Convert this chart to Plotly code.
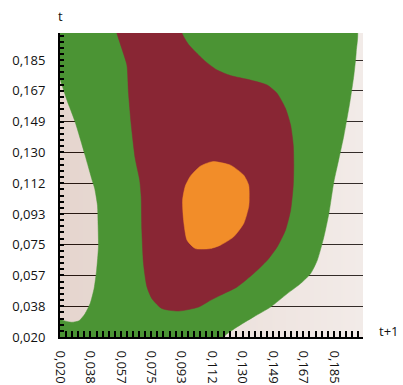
import plotly.graph_objects as go

# Axis ticks (shared by both axes)
tick_vals = [0.020, 0.038366, 0.056732, 0.075098, 0.093464,
             0.111830, 0.130196, 0.148562, 0.166928, 0.185294]
tick_text = ["0,020", "0,038", "0,057", "0,075", "0,093",
             "0,112", "0,130", "0,149", "0,167", "0,185"]
minor_step = 0.0036732
x_range = [0.02, 0.2029]
y_range = [0.02, 0.2015]

# Density level 1 (outer band) boundary: t+1 / t pairs
green_x = [0.0140, 0.1985, 0.1988, 0.1974, 0.1950, 0.1914, 0.1884, 0.1853,
           0.1823, 0.1793, 0.1753, 0.1713, 0.1652, 0.1572, 0.1471, 0.1369,
           0.1269, 0.1198, 0.1162, 0.0140, 0.0140, 0.0188, 0.0224, 0.0271,
           0.0315, 0.0351, 0.0382, 0.0406, 0.0421, 0.0432, 0.0430, 0.0426,
           0.0409, 0.0394, 0.0351, 0.0291, 0.0242, 0.0210, 0.0188, 0.0140]
green_y = [0.2062, 0.2062, 0.1903, 0.1764, 0.1604, 0.1405, 0.1266, 0.1126,
           0.0937, 0.0798, 0.0658, 0.0579, 0.0519, 0.0459, 0.0379, 0.0320,
           0.0260, 0.0210, 0.0150, 0.0150, 0.0312, 0.0309, 0.0297, 0.0288,
           0.0297, 0.0339, 0.0400, 0.0491, 0.0599, 0.0738, 0.0867, 0.0987,
           0.1088, 0.1136, 0.1286, 0.1485, 0.1614, 0.1710, 0.1770, 0.1770]

# Density level 2 boundary
red_x = [0.0533, 0.0932, 0.0936, 0.0974, 0.1027, 0.1083, 0.1148, 0.1229,
         0.1350, 0.1451, 0.1511, 0.1561, 0.1592, 0.1608, 0.1611, 0.1608,
         0.1592, 0.1561, 0.1511, 0.1451, 0.1369, 0.1269, 0.1168, 0.1108,
         0.1037, 0.0916, 0.0815, 0.0755, 0.0725, 0.0704, 0.0694, 0.0690,
         0.0681, 0.0654, 0.0630, 0.0613, 0.0604, 0.0573, 0.0543]
red_y = [0.2062, 0.2062, 0.2015, 0.1949, 0.1893, 0.1841, 0.1794, 0.1761,
         0.1734, 0.1704, 0.1654, 0.1565, 0.1465, 0.1345, 0.1226, 0.1106,
         0.0957, 0.0838, 0.0738, 0.0658, 0.0579, 0.0499, 0.0449, 0.0419,
         0.0379, 0.0355, 0.0370, 0.0429, 0.0499, 0.0639, 0.0838, 0.1037,
         0.1136, 0.1266, 0.1465, 0.1664, 0.1823, 0.1923, 0.2015]

# Density level 3 (core) boundary
orange_x = [0.1120, 0.1229, 0.1309, 0.1339, 0.1342, 0.1339, 0.1309, 0.1248,
            0.1168, 0.1108, 0.1017, 0.0967, 0.0946, 0.0940, 0.0956, 0.0987,
            0.1047]
orange_y = [0.1247, 0.1226, 0.1166, 0.1106, 0.1017, 0.0977, 0.0878, 0.0798,
            0.0748, 0.0728, 0.0728, 0.0778, 0.0897, 0.1017, 0.1100, 0.1160,
            0.1220]

GREEN = "#4b9434"
RED = "#892634"
ORANGE = "#f28d29"

fig = go.Figure()

# Soft pink backdrop, fading to the right; translucent so grid lines show
fig.add_trace(go.Heatmap(
    x=x_range, y=y_range, z=[[0, 1], [0, 1]],
    zsmooth="best", showscale=False, opacity=0.25, hoverinfo="skip",
    colorscale=[[0, "rgb(155,91,63)"], [1, "rgb(207,179,167)"]],
))

for xs, ys, col in [(green_x, green_y, GREEN), (red_x, red_y, RED),
                    (orange_x, orange_y, ORANGE)]:
    fig.add_trace(go.Scatter(
        x=xs + xs[:1], y=ys + ys[:1], mode="lines", fill="toself",
        fillcolor=col, line=dict(color=col, width=0.5, shape="spline",
                                 smoothing=0.6),
        hoverinfo="skip", showlegend=False,
    ))

tick_font = dict(family="Open Sans", size=13, color="#111111")
axis_common = dict(
    tickmode="array", tickvals=tick_vals, ticktext=tick_text,
    ticks="inside", tickcolor="black", tickwidth=1.5,
    showline=True, linecolor="black", linewidth=2, mirror=False,
    zeroline=False, tickfont=tick_font, automargin=False,
)

fig.update_xaxes(
    range=x_range, showgrid=False, tickangle=90, ticklen=6,
    ticklabelstandoff=9,
    minor=dict(tickmode="linear", tick0=0.02, dtick=minor_step,
               ticks="inside", ticklen=6, tickwidth=1.5, tickcolor="black",
               showgrid=False),
    **axis_common,
)
fig.update_yaxes(
    range=y_range, showgrid=True, gridcolor="black", gridwidth=1, ticklen=4,
    ticklabelstandoff=10,
    minor=dict(tickmode="linear", tick0=0.02, dtick=minor_step,
               ticks="inside", ticklen=4, tickwidth=1.5, tickcolor="black",
               showgrid=False),
    **axis_common,
)

fig.add_annotation(text="t", xref="paper", yref="paper", x=0, y=1,
                   xanchor="center", yanchor="bottom", yshift=6,
                   showarrow=False, font=tick_font)
fig.add_annotation(text="t+1", xref="paper", yref="paper", x=1, y=0,
                   xanchor="left", yanchor="middle", xshift=14, yshift=6,
                   showarrow=False, font=tick_font)

fig.update_layout(
    width=403, height=385,
    margin=dict(l=60, r=40, t=33, b=48),
    paper_bgcolor="white", plot_bgcolor="white",
    showlegend=False,
)

fig.write_html("out.html")
